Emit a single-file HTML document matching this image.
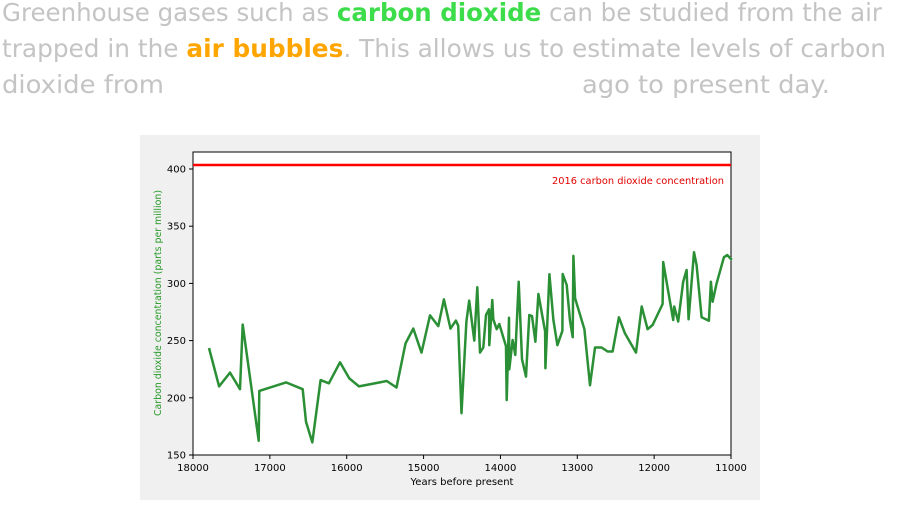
<!DOCTYPE html>
<html><head><meta charset="utf-8"><style>
body{margin:0;width:900px;height:500px;overflow:hidden;background:#fff;font-family:"Liberation Sans","DejaVu Sans",sans-serif}
</style></head><body>
<svg width="900" height="500" xmlns="http://www.w3.org/2000/svg">
<g font-size="25" fill="#c4c4c4" font-family="'DejaVu Sans',sans-serif">
<text x="2" y="21" textLength="880" lengthAdjust="spacingAndGlyphs">Greenhouse gases such as <tspan fill="#3ddc4a" font-weight="bold">carbon dioxide</tspan> can be studied from the air</text>
<text x="2" y="57" textLength="884" lengthAdjust="spacingAndGlyphs">trapped in the <tspan fill="#ffa500" font-weight="bold">air bubbles</tspan>. This allows us to estimate levels of carbon</text>
<text x="2" y="93" textLength="162" lengthAdjust="spacingAndGlyphs">dioxide from</text>
<text x="582" y="93" textLength="248" lengthAdjust="spacingAndGlyphs">ago to present day.</text>
</g>
<rect x="140" y="135" width="620" height="365" fill="#f0f0f0"/>
<rect x="193" y="152" width="538" height="303" fill="#fff" stroke="#000" stroke-width="1"/>
<g id="chart" font-family="'DejaVu Sans',sans-serif"></g>
</svg>
<script>
const years=[17792,17660,17519,17388,17353,17145,17137,16790,16573,16530,16448,16340,16232,16087,15966,15840,15480,15352,15235,15134,15027,14917,14809,14735,14650,14579,14549,14507,14443,14406,14340,14301,14266,14223,14188,14149,14145,14106,14093,14049,14015,13927,13918,13888,13884,13841,13806,13762,13719,13667,13624,13589,13545,13506,13419,13415,13363,13311,13259,13194,13190,13138,13095,13060,13051,13029,12908,12835,12770,12683,12605,12540,12458,12380,12236,12162,12085,12020,11890,11882,11804,11752,11739,11687,11622,11578,11552,11482,11447,11382,11287,11261,11239,11187,11092,11049,10990];
const co2=[243.5,210,222,207.5,264,162.5,206,213.5,207.5,179,161,215.5,212.7,231,217,210,214.7,209,247.5,260.5,239.5,272,262.7,286,260.5,267.5,263,186.5,266.7,285,250,296.6,239.5,244,272.4,277.4,246,285.5,268.6,260,264.5,245,198,270,225,250.5,237.4,301.5,233.7,218.5,272.4,271.5,249,290.7,258,225.8,308,268,246,258.6,308.2,298.6,267.4,253,324,287,260,211,244,244,240.5,240.5,270.4,256.4,239.5,279.8,260,263.6,282,318.7,288,268,279.8,266.7,301.5,311.7,268.6,327.2,316,270.4,267.4,301.5,284,300,322.8,324.8,320.5];
const xTicks=[18000,17000,16000,15000,14000,13000,12000,11000];
const yTicks=[150,200,250,300,350,400];
const current2016=[403.5];
const NS="http://www.w3.org/2000/svg";
const g=document.getElementById('chart');
const X=v=>193+(18000-v)/7000*538;
const Y=v=>455-(v-150)/250*286;
function mk(t,a,txt){const e=document.createElementNS(NS,t);for(const k in a)e.setAttribute(k,a[k]);if(txt!==undefined)e.textContent=txt;g.appendChild(e);return e;}
xTicks.forEach(t=>{
 const l=mk('line',{x1:X(t),x2:X(t),y1:455,y2:459,stroke:'#000'});
 
 
 const s=mk('text',{x:X(t),y:471,'font-size':10,'text-anchor':'middle',fill:'#000'},t);
 
 
});
yTicks.forEach(t=>{
 const l=mk('line',{x1:189,x2:193,y1:Y(t),y2:Y(t),stroke:'#000'});
 
 
 const s=mk('text',{x:186,y:Y(t)+3.5,'font-size':10,'text-anchor':'end',fill:'#000'},t);
 
 
});
const xt=mk('text',{x:462,y:485,'font-size':10,'text-anchor':'middle',fill:'#000'},'Years before present');


const yt=mk('text',{x:0,y:0,'font-size':10,'text-anchor':'middle',fill:'#2a9a2a',transform:'translate(161,303) rotate(-90)',textLength:226,lengthAdjust:'spacingAndGlyphs'},'Carbon dioxide concentration (parts per million)');


const ref=mk('line',{x1:193,x2:731,y1:Y(current2016[0]),y2:Y(current2016[0]),stroke:'#ff0000','stroke-width':2.5});


const rl=mk('text',{x:724,y:184,'font-size':10,'text-anchor':'end',fill:'#e00000',textLength:172,lengthAdjust:'spacingAndGlyphs'},'2016 carbon dioxide concentration');


const pts=years.map((y,i)=>X(y).toFixed(1)+','+Y(co2[i]).toFixed(1)).join(' ');
const pl=mk('polyline',{points:pts,fill:'none',stroke:'#2a8f35','stroke-width':2.5,'stroke-linejoin':'round'});


</script>
</body></html>
